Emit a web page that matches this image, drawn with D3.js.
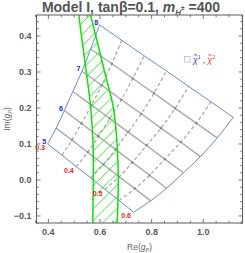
<!DOCTYPE html>
<html>
<head>
<meta charset="utf-8">
<script src="https://cdn.jsdelivr.net/npm/d3@7"></script>
<style>
  body { margin: 0; background: #fff; }
  svg { display: block; font-family: "Liberation Sans", Arial, sans-serif; }
</style>
</head>
<body>
<svg id="chart" width="245" height="253"></svg>
<script>
// grid parameters: rows = blue parameter, columns = red parameter
const blueParams = [5, 5.5, 6, 6.5, 7, 7.5, 8];
const redParams  = [0.3, 0.35, 0.4, 0.45, 0.5, 0.55, 0.6];

// Re(gP) of every grid node, one row per blue parameter
const reGrid = [
    [0.397, 0.453, 0.508, 0.564, 0.619, 0.674, 0.730],
    [0.430, 0.491, 0.552, 0.613, 0.674, 0.735, 0.796],
    [0.462, 0.528, 0.594, 0.660, 0.726, 0.792, 0.858],
    [0.495, 0.567, 0.638, 0.709, 0.780, 0.851, 0.923],
    [0.530, 0.607, 0.683, 0.760, 0.836, 0.913, 0.989],
    [0.564, 0.646, 0.727, 0.809, 0.891, 0.973, 1.054],
    [0.598, 0.684, 0.771, 0.857, 0.943, 1.030, 1.116]
];
// Im(gP) of every grid node
const imGrid = [
    [0.100, 0.069, 0.037, 0.006, -0.026, -0.057, -0.089],
    [0.144, 0.111, 0.077, 0.043, 0.009, -0.024, -0.058],
    [0.193, 0.157, 0.121, 0.085, 0.049, 0.013, -0.023],
    [0.246, 0.208, 0.171, 0.133, 0.096, 0.058, 0.020],
    [0.302, 0.263, 0.223, 0.184, 0.144, 0.105, 0.065],
    [0.364, 0.323, 0.282, 0.241, 0.199, 0.158, 0.117],
    [0.431, 0.388, 0.345, 0.303, 0.260, 0.217, 0.174]
];

const blueLabels = [5, 6, 7, 8];
const redLabels  = [0.3, 0.4, 0.5, 0.6];

// allowed band (green hatched)
const bandIm      = [0.47, 0.40, 0.30, 0.20, 0.10, 0.00, -0.05, -0.13];
const bandLeftRe  = [0.516, 0.528, 0.547, 0.564, 0.573, 0.574, 0.573, 0.572];
const bandRightRe = [0.559, 0.584, 0.618, 0.652, 0.666, 0.671, 0.670, 0.666];

const xTicks = [0.4, 0.6, 0.8, 1.0];
const yTicks = [-0.1, 0.0, 0.1, 0.2, 0.3, 0.4];

const box = { left: 36.5, right: 242.5, top: 15, bottom: 223 };

const x = d3.scaleLinear().domain([0.354, 1.152]).range([box.left, box.right]);
const y = d3.scaleLinear().domain([-0.1195, 0.4583]).range([box.bottom, box.top]);

const svg = d3.select('#chart');

const defs = svg.append('defs');
defs.append('clipPath').attr('id', 'plot-clip')
    .append('rect')
    .attr('x', box.left).attr('y', box.top)
    .attr('width', box.right - box.left).attr('height', box.bottom - box.top);

defs.append('pattern')
    .attr('id', 'hatch')
    .attr('patternUnits', 'userSpaceOnUse')
    .attr('width', 8.2).attr('height', 8.2)
    .attr('patternTransform', 'rotate(45)')
    .append('line')
    .attr('x1', 0).attr('y1', 0).attr('x2', 0).attr('y2', 8.2)
    .attr('stroke', '#1ee81e').attr('stroke-width', 1.25);

const plot = svg.append('g').attr('clip-path', 'url(#plot-clip)');

const nodes = blueParams.map((p, i) => redParams.map((q, j) => ({
    p, q, re: reGrid[i][j], im: imGrid[i][j]
})));

const straight = d3.line().x(d => x(d.re)).y(d => y(d.im));
const curved   = d3.line().x(d => x(d.re)).y(d => y(d.im)).curve(d3.curveCatmullRom);

// solid lines: constant blue parameter
nodes.slice(1, -1).forEach(row => {
    plot.append('path')
        .attr('d', straight(row))
        .attr('fill', 'none')
        .attr('stroke', '#a8a8a8')
        .attr('stroke-width', 1.35);
});

// dashed lines: constant red parameter
redParams.slice(1, -1).forEach((q, k) => {
    const col = nodes.map(row => row[k + 1]);
    plot.append('path')
        .attr('d', curved(col))
        .attr('fill', 'none')
        .attr('stroke', '#ababab')
        .attr('stroke-width', 1.3)
        .attr('stroke-dasharray', '3.5,2.5');
});

// node points
nodes.slice(1, -1).forEach(row => {
    plot.selectAll(null)
        .data(row.slice(1, -1))
        .enter().append('circle')
        .attr('cx', d => x(d.re))
        .attr('cy', d => y(d.im))
        .attr('r', 1.1)
        .attr('fill', '#808080');
});

// blue outline
const edges = [
    nodes[0],
    nodes.map(row => row[row.length - 1]),
    nodes[nodes.length - 1],
    nodes.map(row => row[0])
];
edges.forEach((e, i) => {
    plot.append('path')
        .attr('d', (i % 2 ? curved : straight)(e))
        .attr('fill', 'none')
        .attr('stroke', '#6a8ccc')
        .attr('stroke-width', 1);
});

// hatched band
const band = bandIm.map((v, i) => ({ im: v, lo: bandLeftRe[i], hi: bandRightRe[i] }));
plot.append('path')
    .attr('d', d3.area()
        .y(d => y(d.im)).x0(d => x(d.lo)).x1(d => x(d.hi))
        .curve(d3.curveCatmullRom)(band))
    .attr('fill', 'url(#hatch)');
['lo', 'hi'].forEach(k => {
    plot.append('path')
        .attr('d', d3.line().x(d => x(d[k])).y(d => y(d.im)).curve(d3.curveCatmullRom)(band))
        .attr('fill', 'none')
        .attr('stroke', '#0ee00e')
        .attr('stroke-width', 1.5);
});

// parameter labels
svg.selectAll('.blab')
    .data(blueLabels)
    .enter().append('text')
    .attr('x', d => x(nodes[blueParams.indexOf(d)][0].re) - 3.4)
    .attr('y', d => y(nodes[blueParams.indexOf(d)][0].im) - 2.3)
    .attr('text-anchor', 'middle')
    .attr('dominant-baseline', 'central')
    .attr('font-size', 7)
    .attr('font-weight', 'bold')
    .attr('fill', '#2222ee')
    .text(d => d);

svg.selectAll('.rlab')
    .data(redLabels)
    .enter().append('text')
    .attr('x', d => x(nodes[0][redParams.indexOf(d)].re) - 7.4)
    .attr('y', d => y(nodes[0][redParams.indexOf(d)].im) + 3.8)
    .attr('text-anchor', 'middle')
    .attr('dominant-baseline', 'central')
    .attr('font-size', 7)
    .attr('font-weight', 'bold')
    .attr('fill', '#ee2222')
    .text(d => d3.format('.1f')(d));

// frame and ticks
const frameColor = '#5c5c5c';
svg.append('rect')
    .attr('x', box.left).attr('y', box.top)
    .attr('width', box.right - box.left).attr('height', box.bottom - box.top)
    .attr('fill', 'none').attr('stroke', frameColor).attr('stroke-width', 1);

const near = (a, b) => Math.abs(a - b) < 1e-6;
const xMinor = d3.range(0.35, 1.151, 0.05).filter(v => !xTicks.some(t => near(t, v)));
const yMinor = d3.range(-0.12, 0.451, 0.02).filter(v => !yTicks.some(t => near(t, v)));

const ticks = svg.append('g').attr('stroke', frameColor).attr('stroke-width', 0.8);
[[xTicks, 4], [xMinor, 2.3]].forEach(([vals, len]) => {
    vals.forEach(v => {
        const px = x(v);
        ticks.append('line').attr('x1', px).attr('x2', px).attr('y1', box.bottom).attr('y2', box.bottom - len);
        ticks.append('line').attr('x1', px).attr('x2', px).attr('y1', box.top).attr('y2', box.top + len);
    });
});
[[yTicks, 4], [yMinor, 2.3]].forEach(([vals, len]) => {
    vals.forEach(v => {
        const py = y(v);
        ticks.append('line').attr('y1', py).attr('y2', py).attr('x1', box.left).attr('x2', box.left + len);
        ticks.append('line').attr('y1', py).attr('y2', py).attr('x1', box.right).attr('x2', box.right - len);
    });
});

const fmt = d3.format('.1f');
svg.selectAll('.xt')
    .data(xTicks)
    .enter().append('text')
    .attr('x', d => x(d)).attr('y', box.bottom + 11.5)
    .attr('text-anchor', 'middle')
    .attr('font-size', 9).attr('font-weight', 'bold').attr('fill', '#5a5a5a')
    .text(fmt);
svg.selectAll('.yt')
    .data(yTicks)
    .enter().append('text')
    .attr('x', box.left - 5).attr('y', d => y(d) + 3.2)
    .attr('text-anchor', 'end')
    .attr('font-size', 9).attr('font-weight', 'bold').attr('fill', '#5a5a5a')
    .text(fmt);

// axis labels
const xl = svg.append('text')
    .attr('x', (box.left + box.right) / 2).attr('y', 250)
    .attr('text-anchor', 'middle')
    .attr('font-size', 8.5).attr('fill', '#666');
xl.append('tspan').text('Re(');
xl.append('tspan').attr('font-style', 'italic').text('g');
xl.append('tspan').attr('font-size', 5.5).attr('font-style', 'italic').attr('dy', 1.5).text('P');
xl.append('tspan').attr('dy', -1.5).text(')');

const yl = svg.append('text')
    .attr('transform', `translate(10,${(box.top + box.bottom) / 2}) rotate(-90)`)
    .attr('text-anchor', 'middle')
    .attr('font-size', 8.5).attr('fill', '#666');
yl.append('tspan').text('Im(');
yl.append('tspan').attr('font-style', 'italic').text('g');
yl.append('tspan').attr('font-size', 5.5).attr('font-style', 'italic').attr('dy', 1.5).text('P');
yl.append('tspan').attr('dy', -1.5).text(')');

// title
const title = svg.append('text')
    .attr('x', 131).attr('y', 12)
    .attr('text-anchor', 'middle')
    .attr('font-size', 14).attr('font-weight', 'bold').attr('fill', '#555');
title.append('tspan').text('Model I, tan\u03b2=0.1, ');
title.append('tspan').attr('font-style', 'italic').text('m');
title.append('tspan').attr('font-style', 'italic').attr('font-size', 8).attr('dy', 2.5).text('H');
title.append('tspan').attr('font-size', 6.5).attr('dy', -5).text('\u00b1');
title.append('tspan').attr('dy', 2.5).text(' =400');

// legend
svg.append('rect')
    .attr('x', 184.5).attr('y', 56.5).attr('width', 5.5).attr('height', 5.5)
    .attr('fill', 'none').attr('stroke', '#b4bedc').attr('stroke-width', 0.8);
const lg = svg.append('text')
    .attr('x', 193).attr('y', 62.5)
    .attr('font-size', 8.5);
lg.append('tspan').attr('fill', '#3a3aff').attr('font-style', 'italic').text('\u03c7\u0303');
lg.append('tspan').attr('fill', '#3a3aff').attr('font-size', 5).attr('dy', -3.5).text('1');
lg.append('tspan').attr('fill', '#333').attr('dy', 3.5).text(' , ');
lg.append('tspan').attr('fill', '#ff3a3a').attr('font-style', 'italic').text('\u03c7\u0303');
lg.append('tspan').attr('fill', '#ff3a3a').attr('font-size', 5).attr('dy', -3.5).text('2');
</script>
</body>
</html>
